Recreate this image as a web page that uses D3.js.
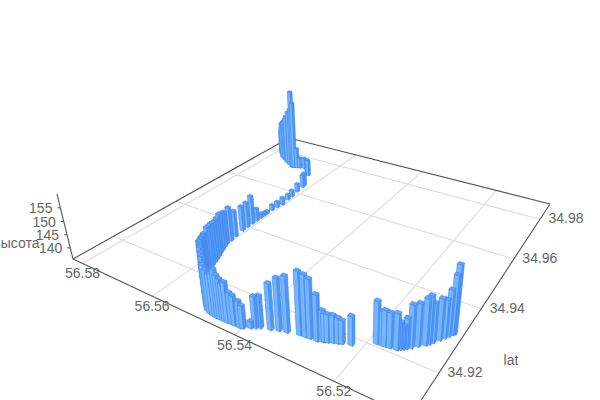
<!DOCTYPE html>
<html><head><meta charset="utf-8">
<script src="https://cdnjs.cloudflare.com/ajax/libs/d3/7.8.5/d3.min.js"></script>
<style>html,body{margin:0;padding:0;background:#fff}svg{display:block}text{font-family:"Liberation Sans",Arial,sans-serif;font-size:14px;fill:#666}</style>
</head><body><svg id="c" width="600" height="400"></svg>
<script>
const lonValues=[56.5086,56.5088,56.5092,56.5096,56.5101,56.5108,56.5112,56.5116,56.5125,56.5133,56.5143,56.5151,56.5163,56.5172,56.5176,56.5186,
56.5220,56.5235,56.5241,56.5249,56.5257,56.5262,56.5265,56.5274,56.5287,56.5296,56.5307,56.5329,56.5343,56.5357,56.5375,56.5382,56.5389,
56.5400,56.5405,56.5417,56.5424,56.5432,56.5443,56.5454,56.5467,56.5484,56.5496,56.5507,56.5518,56.5528,56.5534,56.5543,56.5553,56.5565,
56.5571,56.5578,56.5585,56.5594,56.5603,56.5604,56.5607,56.5609,56.5610,56.5610,56.5610,56.5610,56.5610,56.5610,
56.5610,56.5608,56.5605,56.5609,56.5610,56.5614,56.5616,56.5619,56.5642,56.5657,56.5676,56.5687,56.5694,56.5701,56.5704,56.5707,56.5733,56.5750,56.5765,56.5783,56.5795,
56.5438,56.5449,56.5460,56.5476,56.5490,56.5512,56.5523,56.5548,56.5559,56.5575,56.5581,56.5590,56.5599,
56.5147,56.5139,56.5720,56.5741,56.5757,56.5774,56.5789];
const latValues=[34.9307,34.9303,34.9295,34.9287,34.9277,34.9265,34.9258,34.9252,34.9242,34.9232,34.9222,34.9214,34.9212,34.9211,34.9210,34.9209,
34.9182,34.9176,34.9173,34.9170,34.9166,34.9164,34.9162,34.9158,34.9157,34.9156,34.9155,34.9148,34.9144,34.9138,34.9132,34.9127,34.9122,
34.9114,34.9112,34.9112,34.9112,34.9111,34.9111,34.9111,34.9111,34.9117,34.9128,34.9140,34.9151,34.9162,34.9166,34.9180,34.9194,34.9211,
34.9228,34.9248,34.9269,34.9292,34.9317,34.9333,34.9353,34.9381,34.9400,34.9418,34.9435,34.9450,34.9463,34.9475,
34.9496,34.9514,34.9532,34.9561,34.9580,34.9610,34.9638,34.9650,34.9704,34.9722,34.9736,34.9732,34.9729,34.9727,34.9725,34.9724,34.9741,34.9754,34.9764,34.9785,34.9803,
34.9111,34.9111,34.9111,34.9113,34.9122,34.9145,34.9157,34.9187,34.9203,34.9238,34.9258,34.9280,34.9305,
34.9218,34.9226,34.9733,34.9748,34.9760,34.9775,34.9794];
const heightValues=[158.8,155.7,151.5,148.8,149.8,149.2,151.9,151.3,150.2,150.2,143.7,148,147.6,147.8,147.3,150.1,
145.6,143.7,144.5,145.1,145.3,145.3,146.4,151.4,155.7,156.6,157.1,154.8,153.7,151.6,146.9,146.7,138.1,
143.7,145.1,146.2,146.7,149.8,150.2,152.7,150.3,151.8,150.9,151.4,152.9,153.3,153,152.1,151.2,150.3,
150.9,150.4,149.5,149.9,148.4,148.8,145.9,145.6,145.7,147,140.7,137.6,137,136.8,
137.9,138.1,138.7,137.9,138.4,139.1,141,141.1,142.6,141.3,140.4,140.4,144.6,164.8,169.6,162,157.3,154.1,151.9,146.9,139.7,
149,151,151,151,150,152,153,151.5,150.5,150.5,150,149.5,149,
145,146,160,155.5,153,149,143];
const lonTicks=[56.58,56.56,56.54,56.52];
const latTicks=[34.92,34.94,34.96,34.98];
const heightTicks=[140,145,150,155];
const lonDomain=[56.583,56.507], latDomain=[34.909,34.989], heightDomain=[135.7,160];

const S=d3.scaleLinear().domain(lonDomain).range([0,1]);
const T=d3.scaleLinear().domain(latDomain).range([0,1]);
const K=d3.scaleLinear().domain(heightDomain).range([0,-0.0544]);
// perspective of the floor (unit square) + vertical vanishing point
const H={a:216.9,b:345.6,c:73,d:35.8,e:-59.1,f:259,g:-0.2930,h:0.4484,nx:351,ny:1388};
function P(s,t,k=0){const w=H.g*s+H.h*t+1+k;
 return [(H.a*s+H.b*t+H.c+H.nx*k)/w,(H.d*s+H.e*t+H.f+H.ny*k)/w];}
const depth=(s,t)=>H.g*s+H.h*t+1;
const svg=d3.select('#c');
const line=(p,q,col,w,par=svg)=>par.append('line').attr('x1',p[0]).attr('y1',p[1]).attr('x2',q[0]).attr('y2',q[1]).attr('stroke',col).attr('stroke-width',w);

// grid
lonTicks.forEach(v=>line(P(S(v),0),P(S(v),1),'#dcdcdc',1.1));
latTicks.forEach(v=>line(P(0,T(v)),P(1,T(v)),'#dcdcdc',1.1));
// axis box
const L=P(0,0),F=P(1,0),R=P(1,1),B=P(0,1);
[[L,F],[F,R],[L,B],[B,R]].forEach(e=>line(e[0],e[1],'#555',1.1));
line(L,P(0,0,K(heightDomain[1])),'#555',1.1);
heightTicks.forEach(v=>{const p=P(0,0,K(v));line(p,[p[0]-3,p[1]-0.3],'#555',1);
 svg.append('text').attr('x',p[0]-8).attr('y',p[1]+5).attr('text-anchor','end').text(v);});
lonTicks.forEach(v=>{const p=P(S(v),0);svg.append('text').attr('x',p[0]).attr('y',p[1]+15).attr('text-anchor','middle').text(v.toFixed(2));});
latTicks.forEach(v=>{const p=P(1,T(v));svg.append('text').attr('x',p[0]+26).attr('y',p[1]+4).attr('text-anchor','middle').text(v.toFixed(2));});
svg.append('text').attr('x',39.5).attr('y',248).attr('text-anchor','end').text('высота');
svg.append('text').attr('x',511).attr('y',365).attr('text-anchor','middle').text('lat');

// bars
const ds=0.0060, dt=0.0050;
const bars=d3.range(lonValues.length).map(i=>({s:S(lonValues[i]),t:T(latValues[i]),k:K(heightValues[i])}))
 .sort((a,b)=>depth(b.s,b.t)-depth(a.s,a.t));
const toPath=pts=>'M'+pts.map(p=>p[0].toFixed(2)+','+p[1].toFixed(2)).join('L')+'Z';
const g=svg.append('g').attr('stroke','#4086ef').attr('stroke-width',0.6).attr('stroke-linejoin','round');
bars.forEach(b=>{
 const c=(i,j,k)=>P(b.s+i*ds,b.t+j*dt,k);
 g.append('path').attr('d',toPath([c(-1,-1,0),c(1,-1,0),c(1,-1,b.k),c(-1,-1,b.k)])).attr('fill','#74b6ff');
 g.append('path').attr('d',toPath([c(1,-1,0),c(1,1,0),c(1,1,b.k),c(1,-1,b.k)])).attr('fill','#5296f5');
 g.append('path').attr('d',toPath([c(-1,-1,b.k),c(1,-1,b.k),c(1,1,b.k),c(-1,1,b.k)])).attr('fill','#62a6fa');
});
</script></body></html>
